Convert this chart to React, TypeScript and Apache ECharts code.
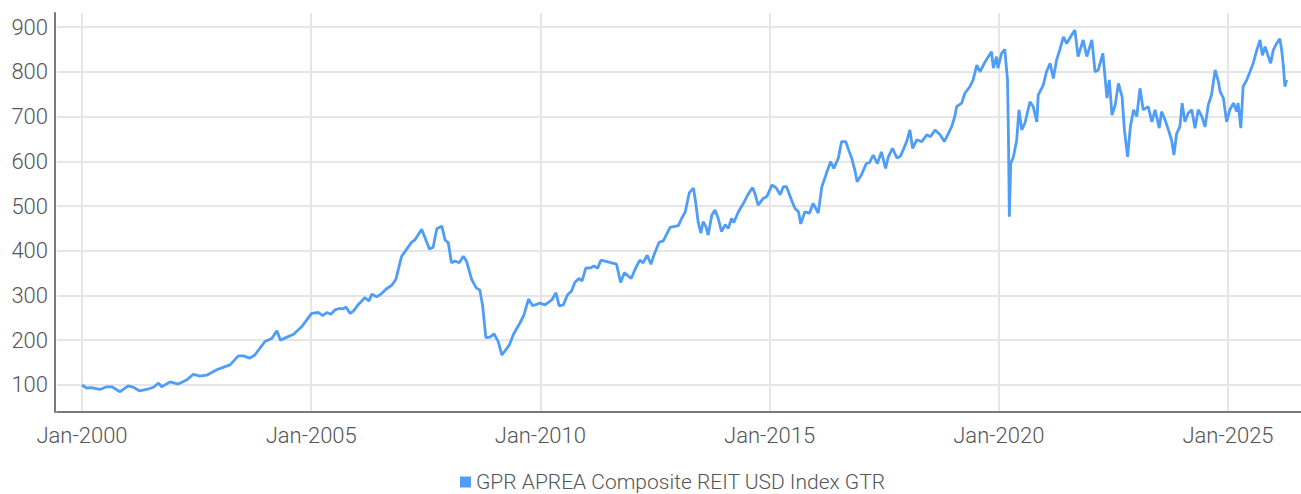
import React, { useEffect, useRef } from "react";
import * as echarts from "echarts";

// Dates as decimal years (e.g. 2013.25 = early April 2013)
const years: number[] = [
  2000.00, 2000.10, 2000.20, 2000.39, 2000.54, 2000.65, 2000.83, 2001.01, 2001.12, 2001.25,
  2001.41, 2001.56, 2001.67, 2001.74, 2001.92, 2002.10, 2002.28, 2002.43, 2002.57, 2002.72,
  2002.94, 2003.12, 2003.23, 2003.41, 2003.52, 2003.66, 2003.77, 2003.99, 2004.14, 2004.25,
  2004.33, 2004.47, 2004.61, 2004.79,
  2005.01, 2005.16, 2005.25, 2005.34, 2005.43, 2005.52, 2005.61, 2005.69, 2005.76, 2005.85,
  2005.92, 2006.03, 2006.17, 2006.26, 2006.32, 2006.43, 2006.52, 2006.63, 2006.76, 2006.85,
  2006.97, 2007.08, 2007.19, 2007.26, 2007.41, 2007.58, 2007.66, 2007.74, 2007.85, 2007.92,
  2007.99, 2008.06, 2008.14, 2008.23, 2008.32, 2008.39, 2008.50, 2008.60, 2008.68, 2008.74,
  2008.81, 2008.90, 2008.99, 2009.08, 2009.16, 2009.32, 2009.41, 2009.55, 2009.64, 2009.74,
  2009.83, 2009.99,
  2010.10, 2010.25, 2010.34, 2010.41, 2010.50, 2010.59, 2010.68, 2010.75, 2010.84, 2010.91,
  2010.99, 2011.10, 2011.17, 2011.25, 2011.32, 2011.66, 2011.75, 2011.83, 2011.98, 2012.09,
  2012.17, 2012.24, 2012.33, 2012.41, 2012.49, 2012.59, 2012.68, 2012.83, 2013.01, 2013.08,
  2013.16, 2013.25, 2013.34, 2013.39, 2013.44, 2013.50, 2013.55, 2013.61, 2013.66, 2013.74,
  2013.81, 2013.88, 2013.95, 2014.03, 2014.10, 2014.17, 2014.22, 2014.32, 2014.43, 2014.54,
  2014.63, 2014.68, 2014.75, 2014.86, 2014.94,
  2015.05, 2015.15, 2015.23, 2015.30, 2015.37, 2015.48, 2015.55, 2015.63, 2015.68, 2015.77,
  2015.87, 2015.95, 2016.06, 2016.14, 2016.24, 2016.33, 2016.40, 2016.50, 2016.57, 2016.66,
  2016.74, 2016.79, 2016.86, 2016.91, 2017.00, 2017.11, 2017.18, 2017.26, 2017.35, 2017.44,
  2017.53, 2017.59, 2017.68, 2017.78, 2017.86, 2017.99, 2018.06, 2018.12, 2018.21, 2018.32,
  2018.43, 2018.51, 2018.61, 2018.72, 2018.81, 2018.90, 2018.97,
  2019.04, 2019.08, 2019.19, 2019.26, 2019.37, 2019.44, 2019.52, 2019.59, 2019.70, 2019.84,
  2019.88, 2019.95, 2019.98, 2020.06, 2020.13, 2020.19, 2020.21, 2020.23, 2020.26, 2020.32,
  2020.39, 2020.44, 2020.50, 2020.57, 2020.68, 2020.75, 2020.83, 2020.86, 2020.97, 2021.04,
  2021.12, 2021.19, 2021.26, 2021.33, 2021.41, 2021.48, 2021.59, 2021.66, 2021.73, 2021.84,
  2021.92, 2022.03, 2022.10, 2022.17, 2022.27, 2022.36, 2022.41, 2022.47, 2022.54, 2022.61,
  2022.69, 2022.74, 2022.81, 2022.87, 2022.94, 2023.01, 2023.08, 2023.15, 2023.26, 2023.34,
  2023.41, 2023.50, 2023.55, 2023.63, 2023.70, 2023.77, 2023.82, 2023.88, 2023.95, 2024.00,
  2024.06, 2024.13, 2024.21, 2024.28, 2024.35, 2024.43, 2024.50, 2024.57, 2024.64, 2024.72,
  2024.79, 2024.83, 2024.90, 2024.97, 2025.04, 2025.12, 2025.19, 2025.22, 2025.28, 2025.33,
  2025.41, 2025.48, 2025.55, 2025.63, 2025.70, 2025.75, 2025.81, 2025.88, 2025.93, 2025.99,
  2026.06, 2026.13, 2026.17, 2026.21, 2026.24, 2026.28,
];

const values: number[] = [
  100, 93, 94, 90, 96, 96, 85, 98, 95, 87,
  90, 95, 104, 96, 107, 102, 111, 124, 120, 122,
  134, 141, 145, 165, 165, 160, 167, 197, 204, 221,
  200, 207, 213, 230,
  260, 262, 255, 262, 258, 268, 271, 270, 274, 260,
  265, 280, 295, 288, 303, 297, 303, 314, 323, 337,
  387, 403, 419, 424, 448, 404, 408, 449, 455, 424,
  418, 373, 377, 373, 388, 376, 336, 317, 312, 277,
  206, 207, 214, 197, 167, 189, 213, 238, 256, 292,
  277, 283,
  279, 290, 306, 277, 279, 301, 310, 329, 338, 333,
  361, 362, 366, 361, 379, 370, 329, 351, 338, 364,
  379, 373, 390, 370, 394, 419, 422, 452, 456, 472,
  487, 530, 540, 506, 465, 439, 465, 454, 435, 480,
  491, 472, 443, 458, 450, 472, 463, 487, 506, 528,
  541, 528, 502, 517, 521,
  547, 540, 525, 543, 543, 513, 495, 487, 460, 487,
  484, 506, 484, 543, 573, 599, 584, 607, 644, 644,
  621, 607, 580, 554, 569, 595, 597, 614, 595, 621,
  584, 610, 629, 607, 612, 644, 670, 629, 648, 644,
  659, 655, 670, 659, 644, 662, 677,
  700, 722, 730, 752, 767, 782, 815, 800, 822, 845,
  808, 834, 808, 841, 850, 782, 662, 476, 595, 610,
  647, 715, 670, 685, 733, 722, 688, 748, 770, 800,
  819, 785, 826, 849, 878, 863, 882, 893, 834, 871,
  834, 871, 800, 804, 841, 741, 782, 703, 726, 774,
  744, 670, 610, 677, 715, 700, 763, 715, 722, 688,
  715, 674, 711, 692, 670, 647, 614, 662, 677, 730,
  688, 707, 715, 674, 715, 700, 677, 726, 748, 804,
  778, 755, 741, 688, 715, 730, 711, 730, 674, 767,
  782, 800, 819, 849, 871, 837, 856, 834, 819, 849,
  863, 874, 849, 811, 767, 782,
];

const xTickYears: number[] = [2000, 2005, 2010, 2015, 2020, 2025];
const yTicks: number[] = [100, 200, 300, 400, 500, 600, 700, 800, 900];
const seriesName = "GPR APREA Composite REIT USD Index GTR";

const FONT = "Roboto, 'Liberation Sans', sans-serif";
const LINE_COLOR = "#4f9df7";

export default function App() {
  const ref = useRef<HTMLDivElement>(null);

  useEffect(() => {
    if (!ref.current) return;
    const chart = echarts.init(ref.current, undefined, { renderer: "svg" });
    const data = years.map((y, i) => [y, values[i]]);
    chart.setOption({
      animation: false,
      backgroundColor: "#ffffff",
      textStyle: { fontFamily: FONT },
      grid: { left: 57, right: 0, top: 13, bottom: 82, containLabel: false },
      legend: {
        left: 455,
        top: 466,
        icon: "rect",
        itemWidth: 11,
        itemHeight: 11,
        itemGap: 10,
        textStyle: { fontFamily: FONT, fontSize: 21, fontWeight: 300, color: "#555555", lineHeight: 22 },
        data: [seriesName],
      },
      xAxis: {
        type: "value",
        min: 1999.4546,
        max: 2026.5926,
        axisLine: { show: true, lineStyle: { color: "#7a7a7a", width: 2 } },
        axisTick: { show: false, customValues: xTickYears },
        axisLabel: {
          customValues: xTickYears,
          formatter: (v: number) => "Jan-" + Math.round(v),
          fontFamily: FONT,
          fontSize: 22,
          fontWeight: 300,
          color: "#555555",
          margin: 12,
        },
        splitLine: { show: true, lineStyle: { color: "#e6e6e6", width: 2 } },
      },
      yAxis: {
        type: "value",
        min: 39.66,
        max: 931.3,
        offset: 2,
        axisLine: { show: true, lineStyle: { color: "#7a7a7a", width: 2 } },
        axisTick: { show: false, customValues: yTicks },
        axisLabel: {
          customValues: yTicks,
          fontFamily: FONT,
          fontSize: 22,
          fontWeight: 300,
          color: "#555555",
          margin: 7,
        },
        splitLine: { show: true, lineStyle: { color: "#e6e6e6", width: 2 } },
      },
      series: [
        {
          name: seriesName,
          type: "line",
          data,
          showSymbol: false,
          symbol: "none",
          color: LINE_COLOR,
          lineStyle: { color: LINE_COLOR, width: 2.8 },
          itemStyle: { color: LINE_COLOR },
        },
      ],
    });
    return () => chart.dispose();
  }, []);

  return (
    <div
      ref={ref}
      style={{ position: "fixed", left: 0, top: 0, width: 1301, height: 494 }}
    />
  );
}
